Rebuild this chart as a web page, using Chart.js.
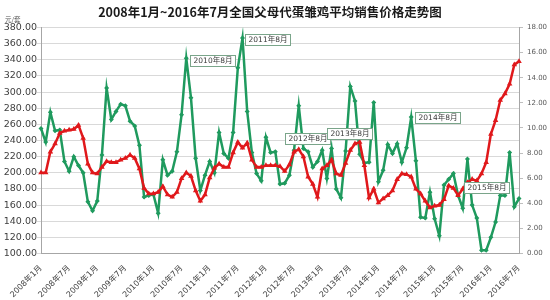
<!DOCTYPE html>
<html><head><meta charset="utf-8">
<script src="https://cdn.jsdelivr.net/npm/chart.js@4/dist/chart.umd.min.js"></script>
<style>html,body{margin:0;padding:0;background:#fff}canvas{display:block}</style>
</head><body>
<canvas id="c" width="550" height="300"></canvas>
<script>
const titleText = '2008年1月~2016年7月全国父母代蛋雏鸡平均销售价格走势图';
const leftUnit = '元/套';
const startYear = 2008, startMonth = 1, monthCount = 103;
const categories = [];
for (let k = 0; k < monthCount; k++) {
  const t = startMonth - 1 + k;
  categories.push((startYear + Math.floor(t / 12)) + '年' + (t % 12 + 1) + '月');
}
// green series, left axis (元/套)
const greenValues = [
  255,238,275,252,253,214,202,220,209,200,164,153,
  165,222,305,266,276,285,283,264,258,234,170,172,
  173,150,216,197,202,226,272,342,293,218,178,197,
  214,200,250,224,218,250,330,367,276,225,199,190,
  244,225,226,186,187,197,228,283,230,226,207,214,
  228,193,230,180,169,227,307,289,223,212,213,287,
  189,203,235,224,236,213,231,269,215,145,144,176,
  143,122,185,192,199,172,156,217,160,144,104,104,
  120,139,172,172,225,158,168
];
// red series, right axis
const redValues = [
  6.43,6.43,8.10,8.74,9.58,9.77,9.84,9.90,10.22,9.19,7.14,6.43,
  6.36,6.88,7.33,7.26,7.26,7.46,7.59,7.84,7.59,6.75,5.21,4.76,
  4.76,4.89,5.34,4.69,4.50,4.89,5.98,6.43,6.17,5.01,4.18,4.69,
  6.04,6.81,7.14,6.88,6.88,8.04,8.87,8.42,8.81,7.46,6.88,6.88,
  7.01,7.01,7.01,6.94,6.56,7.07,8.10,8.29,7.71,6.11,5.53,4.50,
  6.75,7.01,7.46,6.36,6.24,7.20,8.23,8.74,8.87,7.01,4.44,5.14,
  4.05,4.37,4.63,5.01,5.91,6.36,6.30,6.11,5.14,4.76,4.18,3.66,
  3.79,3.86,4.31,5.40,5.21,4.63,5.14,5.66,5.91,5.79,6.36,7.26,
  9.51,10.61,12.21,12.73,13.50,15.04,15.30
];
const leftTicks = {min:100, max:380, step:20};
const rightTicks = {min:0, max:18, step:2};
const callouts = [
  {month:'2010年8月', series:'green', dx:26, dy:2},
  {month:'2011年8月', series:'green', dx:25, dy:2},
  {month:'2012年8月', series:'red', dx:9, dy:-11},
  {month:'2013年8月', series:'red', dx:-5, dy:-10},
  {month:'2014年8月', series:'green', dx:26, dy:0},
  {month:'2015年8月', series:'red', dx:19, dy:5}
];

const GREEN = '#1f9a5e', RED = '#e0181b';
const FONT = '"DejaVu Sans","Noto Sans CJK SC",sans-serif';

const titlePlugin = {
  id:'titleDraw',
  afterDraw(chart){
    const ctx = chart.ctx;
    ctx.save();
    ctx.fillStyle = '#1a1a1a';
    ctx.font = 'bold 12.5px "Noto Sans CJK SC",sans-serif';
    ctx.textAlign = 'center'; ctx.textBaseline = 'middle';
    ctx.fillText(titleText, 270, 12);
    ctx.font = '6.5px "Noto Sans CJK SC",sans-serif';
    ctx.fillStyle = '#555';
    ctx.textAlign = 'left';
    ctx.fillText(leftUnit, 5, 20);
    ctx.restore();
  }
};
const calloutPlugin = {
  id:'callouts',
  afterDatasetsDraw(chart){
    const ctx = chart.ctx;
    ctx.save();
    ctx.font = '7.5px ' + FONT;
    callouts.forEach(a => {
      const dsIndex = chart.data.datasets.findIndex(d => d.key === a.series);
      const idx = categories.indexOf(a.month);
      const pt = chart.getDatasetMeta(dsIndex).data[idx];
      const w = Math.round(ctx.measureText(a.month).width + 6), h = 11;
      const left = Math.round(pt.x + a.dx - w/2), top = Math.round(pt.y + a.dy - h/2);
      ctx.fillStyle = '#fff';
      ctx.fillRect(left, top, w, h);
      ctx.strokeStyle = '#7aa58a'; ctx.lineWidth = 1;
      ctx.strokeRect(left + 0.5, top + 0.5, w, h);
      ctx.fillStyle = '#3a3a3a';
      ctx.textAlign = 'center'; ctx.textBaseline = 'middle';
      ctx.fillText(a.month, left + w/2 + 0.5, top + h/2 + 1);
    });
    ctx.restore();
  }
};

new Chart(document.getElementById('c'), {
  type:'line',
  data:{
    labels: categories,
    datasets:[
      {key:'green', data: greenValues, yAxisID:'y', borderColor: GREEN, backgroundColor: GREEN,
       borderWidth:2.5, pointStyle:'rectRot', pointRadius:2.5, pointBorderWidth:0, tension:0, order:2},
      {key:'red', data: redValues, yAxisID:'y1', borderColor: RED, backgroundColor: RED,
       borderWidth:2.5, pointStyle:'triangle', pointRadius:3.2, pointBorderWidth:0, tension:0, order:1}
    ]
  },
  options:{
    responsive:false, animation:false, devicePixelRatio:1,
    layout:{padding:{top:27.5, bottom:0, left:0, right:0}},
    plugins:{legend:{display:false}, title:{display:false}, tooltip:{enabled:false}},
    scales:{
      x:{
        offset:false,
        grid:{display:false},
        border:{display:true, color:'#a6a6a6'},
        afterFit(s){ s.height = 46.5; },
        ticks:{autoSkip:false, minRotation:45, maxRotation:45, padding:2,
          color:'#404040', font:{size:8, family:FONT},
          callback(v, i){ return i % 6 === 0 ? categories[i] : ''; }}
      },
      y:{
        position:'left', min:leftTicks.min, max:leftTicks.max,
        afterFit(s){ s.width = 41; },
        grid:{color:'#d9d9d9', tickLength:4},
        border:{display:true, color:'#a6a6a6'},
        ticks:{stepSize:leftTicks.step, padding:0, color:'#404040', font:{size:9.5, family:FONT},
          callback(v){ return v.toFixed(2); }}
      },
      y1:{
        position:'right', min:rightTicks.min, max:rightTicks.max,
        afterFit(s){ s.width = 31; },
        grid:{drawOnChartArea:false, color:'#bfbfbf', tickLength:4},
        border:{display:true, color:'#a6a6a6'},
        ticks:{stepSize:rightTicks.step, padding:4, color:'#595959', font:{size:7, family:FONT},
          callback(v){ return v.toFixed(2); }}
      }
    }
  },
  plugins:[titlePlugin, calloutPlugin]
});
</script>
</body></html>
